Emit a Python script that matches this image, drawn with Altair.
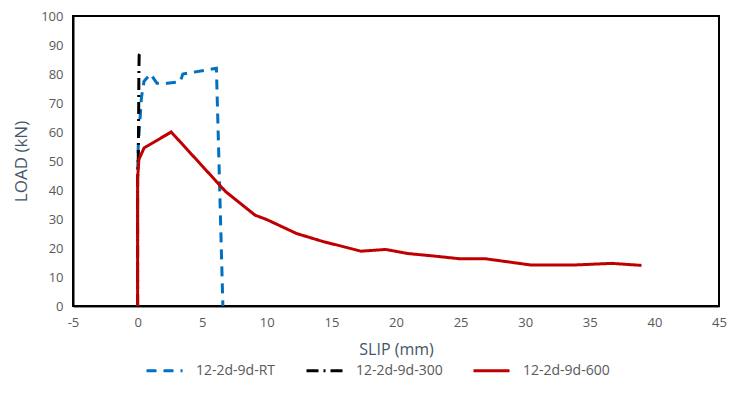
import altair as alt
import pandas as pd

# Series data (SLIP mm, LOAD kN)
rt_x = [0.0, 0.0, 0.05, 0.12, 0.3, 0.5, 1.0, 1.5, 2.3, 3.3, 3.5, 5.5, 6.1, 6.6]
rt_y = [0.0, 45.0, 55.0, 60.0, 72.0, 77.5, 80.0, 76.8, 76.8, 77.3, 80.0, 81.5, 82.0, 0.0]

t300_x = [0.0, 0.0, 0.05, 0.08, 0.1, 0.12, 0.2, 0.28]
t300_y = [0.0, 44.0, 50.0, 65.0, 80.0, 86.5, 87.0, 86.0]

t600_x = [0.0, 0.0, 0.1, 0.5, 2.6, 6.8, 9.1, 10.0, 12.3, 14.3, 17.3, 19.2, 20.9, 23.0,
          24.9, 26.9, 30.5, 33.6, 36.7, 39.0]
t600_y = [0.0, 44.0, 50.5, 54.5, 60.0, 39.5, 31.3, 29.8, 25.0, 22.3, 18.9, 19.5, 18.1, 17.2,
          16.3, 16.3, 14.1, 14.1, 14.7, 14.0]

names = ["12-2d-9d-RT", "12-2d-9d-300", "12-2d-9d-600"]
colors = ["#0070C0", "#000000", "#C00000"]
dashes = [[10, 7], [12, 5, 2, 5], [1, 0]]

rows = []
for name, xs, ys in zip(names, [rt_x, t300_x, t600_x], [rt_y, t300_y, t600_y]):
    for i, (x, y) in enumerate(zip(xs, ys)):
        rows.append({"series": name, "slip": x, "load": y, "i": i})
df = pd.DataFrame(rows)

font = "Open Sans"

lines = alt.Chart(df).mark_line(strokeWidth=3, clip=True).encode(
    x=alt.X("slip:Q", scale=alt.Scale(domain=[-5, 45], nice=False),
            axis=alt.Axis(title="SLIP (mm)", values=list(range(-5, 50, 5)), grid=False,
                          ticks=False, domainColor="#8c8c8c", domainWidth=3,
                          labelFlush=False,
                          labelExpr="replace(datum.label, '\u2212', '-')",
                          labelColor="#595959", labelFontSize=13, labelFont=font,
                          labelPadding=10, titleColor="#44546A", titleFontSize=16,
                          titleFont=font, titleFontWeight="normal", titlePadding=12)),
    y=alt.Y("load:Q", scale=alt.Scale(domain=[0, 100], nice=False),
            axis=alt.Axis(title="LOAD (kN)", values=list(range(0, 110, 10)), grid=False,
                          ticks=False, domainColor="black", domainWidth=2,
                          labelFlush=False,
                          labelColor="#595959", labelFontSize=13, labelFont=font,
                          labelPadding=10, titleColor="#44546A", titleFontSize=17,
                          titleFont=font, titleFontWeight="normal", titlePadding=10)),
    color=alt.Color("series:N", scale=alt.Scale(domain=names, range=colors),
                    legend=alt.Legend(title=None, orient="none", direction="horizontal",
                                      legendX=72, legendY=335, symbolType="stroke",
                                      symbolSize=1296, symbolStrokeWidth=3,
                                      labelColor="#595959", labelFontSize=14,
                                      labelFont=font, columnPadding=24, labelOffset=12)),
    strokeDash=alt.StrokeDash("series:N", scale=alt.Scale(domain=names, range=dashes),
                              legend=None),
    order=alt.Order("i:Q"),
)

frame = alt.Chart(df).mark_rect(fill=None, stroke="black", strokeWidth=2).encode(
    x=alt.value(0), x2=alt.value({"expr": "width"}),
    y=alt.value(0), y2=alt.value({"expr": "height"}),
)

chart = alt.layer(frame, lines).properties(
    width=646, height=290,
    autosize=alt.AutoSizeParams(type="none"),
    padding={"left": 65, "top": 8, "right": 9, "bottom": 94},
    background="white",
).configure_view(stroke=None)

chart.save("out.html", embed_options={"renderer": "svg", "actions": False})
